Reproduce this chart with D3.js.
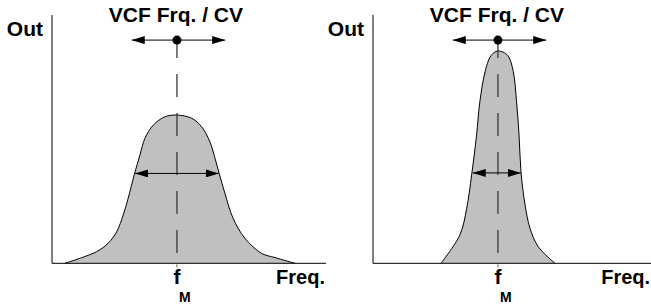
<!DOCTYPE html>
<html>
<head>
<meta charset="utf-8">
<script src="https://cdn.jsdelivr.net/npm/d3@7"></script>
<style>
  body { margin: 0; background: #fff; }
  text { font-family: "Liberation Sans", Arial, sans-serif; font-weight: bold; fill: #000; }
</style>
</head>
<body>
<svg width="651" height="306"></svg>
<script>
// frequency offsets from f_M and output level (0..100)
var wideFreq = [-40.9, -29.3, -25.1, -22.0, -19.6, -17.8, -15.6, -13.5, -11.7, -8.6, -4.4, 0, 5.4, 9.0, 12.0, 13.9, 15.4, 17.5, 20.5, 24.8, 30.9, 35.8, 43.1];
var wideOut  = [0, 4.7, 8.1, 12.7, 19.5, 26.2, 35.6, 43.6, 50.3, 55.7, 59.0, 59.7, 58.4, 55.0, 49.0, 42.3, 36.2, 28.2, 18.1, 10.1, 4.0, 2.3, 0];

var narrowFreq = [-20.8, -13.9, -11.4, -9.6, -7.8, -6.6, -4.7, -2.9, -1.4, 0, 1.8, 3.8, 5.6, 6.8, 7.7, 8.4, 9.9, 11.7, 14.7, 20.8];
var narrowOut  = [0, 11.4, 22.2, 35.6, 51.7, 65.1, 77.2, 83.0, 84.9, 85.5, 85.1, 83.4, 77.2, 65.1, 51.7, 36.9, 23.5, 14.1, 6.7, 0];

var bandLevel = [36.2, 36.4];
var bandEdges = [[-15.3, 15.3], [-9.2, 8.4]];
var cvLevel = 89.9;
var cvEdges = [-16.5, 17.6];
var axisEnd = [54.4, 55.9];

var titleText = "VCF Frq. / CV";
var yLabel = "Out";
var xLabel = "Freq.";
var markLabel = "f";
var markSub = "M";

var svg = d3.select("svg");
var panelX = [52, 373];

var x = d3.scaleLinear().domain([-45.6, 54.4]).range([0, 274]);
var y = d3.scaleLinear().domain([0, 100]).range([263.3, 15]);

var defs = svg.append("defs");
defs.append("marker")
    .attr("id", "head")
    .attr("markerUnits", "userSpaceOnUse")
    .attr("viewBox", "0 0 13 8")
    .attr("refX", 13).attr("refY", 4)
    .attr("markerWidth", 13).attr("markerHeight", 8)
    .attr("orient", "auto-start-reverse")
  .append("path")
    .attr("d", "M0,0L13,4L0,8Z")
    .attr("fill", "#000");

var curves = [
  wideFreq.map(function(f, i) { return [f, wideOut[i]]; }),
  narrowFreq.map(function(f, i) { return [f, narrowOut[i]]; })
];

var area = d3.area()
    .x(function(d) { return x(d[0]); })
    .y0(y(0))
    .y1(function(d) { return y(d[1]); })
    .curve(d3.curveCatmullRom.alpha(0.5));

var line = d3.line()
    .x(function(d) { return x(d[0]); })
    .y(function(d) { return y(d[1]); })
    .curve(d3.curveCatmullRom.alpha(0.5));

curves.forEach(function(data, p) {
  var g = svg.append("g")
      .attr("transform", "translate(" + panelX[p] + ",0)");

  g.append("path")
      .datum(data)
      .attr("d", area)
      .attr("fill", "#c0c0c0");

  g.append("path")
      .datum(data)
      .attr("d", line)
      .attr("fill", "none")
      .attr("stroke", "#000")
      .attr("stroke-width", 1);

  // axes
  g.append("line")
      .attr("x1", 0).attr("x2", 0)
      .attr("y1", y(100)).attr("y2", y(0))
      .attr("stroke", "#000");
  g.append("line")
      .attr("x1", 0).attr("x2", x(axisEnd[p]))
      .attr("y1", y(0)).attr("y2", y(0))
      .attr("stroke", "#000");

  // f_M marker line
  g.append("line")
      .attr("x1", x(0)).attr("x2", x(0))
      .attr("y1", y(cvLevel)).attr("y2", y(0))
      .attr("stroke", "#3a3a3a")
      .attr("stroke-width", 1.3)
      .attr("stroke-dasharray", "23,16")
      .attr("stroke-dashoffset", 5);
  g.append("line")
      .attr("x1", x(0)).attr("x2", x(0))
      .attr("y1", y(0) + 1).attr("y2", y(0) + 4)
      .attr("stroke", "#666");

  // bandwidth arrow
  bandEdges[p].forEach(function(e) {
    g.append("line")
        .attr("x1", x(0)).attr("x2", x(e))
        .attr("y1", y(bandLevel[p])).attr("y2", y(bandLevel[p]))
        .attr("stroke", "#000")
        .attr("marker-end", "url(#head)");
  });

  // CV arrow
  cvEdges.forEach(function(e) {
    g.append("line")
        .attr("x1", x(0)).attr("x2", x(e))
        .attr("y1", y(cvLevel)).attr("y2", y(cvLevel))
        .attr("stroke", "#000")
        .attr("marker-end", "url(#head)");
  });
  g.append("circle")
      .attr("cx", x(0)).attr("cy", y(cvLevel))
      .attr("r", 4.5)
      .attr("fill", "#000");

  // labels
  g.append("text")
      .attr("x", x(0) - 1).attr("y", 22)
      .attr("text-anchor", "middle")
      .style("font-size", "21px")
      .text(titleText);
  g.append("text")
      .attr("x", -9).attr("y", 36)
      .attr("text-anchor", "end")
      .style("font-size", "21px")
      .text(yLabel);
  g.append("text")
      .attr("x", x(axisEnd[p]) - 1).attr("y", 284)
      .attr("text-anchor", "end")
      .style("font-size", "20px")
      .text(xLabel);
  g.append("text")
      .attr("x", x(0)).attr("y", 284)
      .attr("text-anchor", "middle")
      .style("font-size", "21px")
      .text(markLabel);
  g.append("text")
      .attr("x", x(0) + 2).attr("y", 302)
      .style("font-size", "14px")
      .text(markSub);
});
</script>
</body>
</html>
